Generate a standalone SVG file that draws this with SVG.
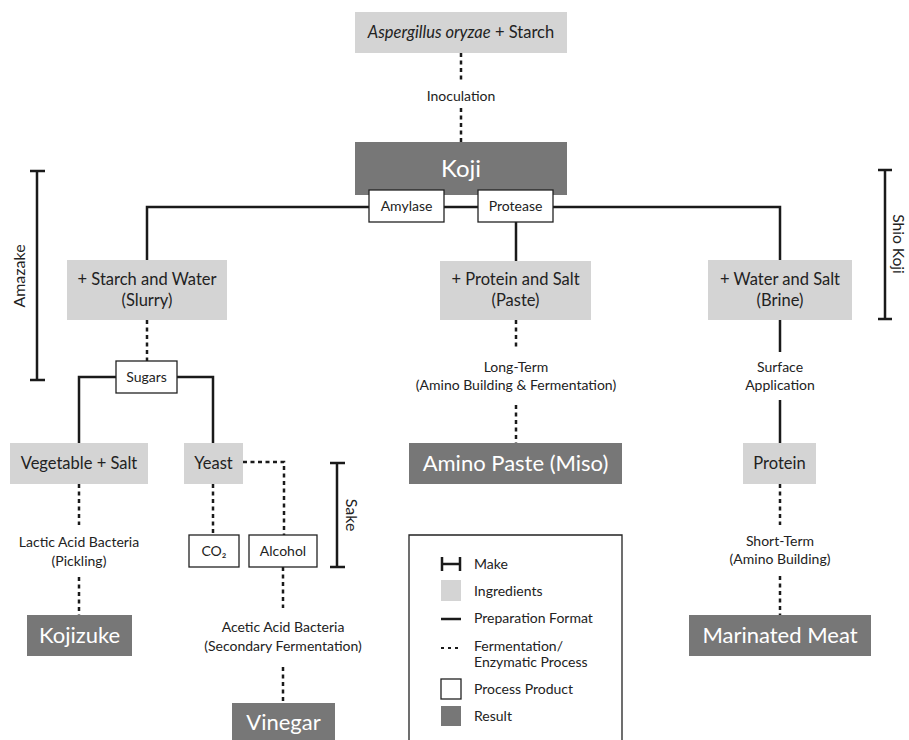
<svg xmlns="http://www.w3.org/2000/svg" width="909" height="740" viewBox="0 0 909 740">
<style>
text{font-family:Lato,"Open Sans","Liberation Sans",sans-serif;fill:#222;text-anchor:middle}
.ing{fill:#d4d4d4}
.res{fill:#777777}
.prod{fill:#fff;stroke:#222;stroke-width:1.3}
.box{font-size:16.5px}
.sm{font-size:14px}
.big{font-size:22px;fill:#fff}
.solid{fill:none;stroke:#1a1a1a;stroke-width:2.5}
.dot{fill:none;stroke:#1a1a1a;stroke-width:2.5;stroke-dasharray:4 3.5}
.lg{font-size:14px;text-anchor:start}
</style>
<rect width="909" height="740" fill="#fff"/>
<g id="connectors">
<path class="dot" d="M461 53V82M461 108V142"/>
<path class="solid" d="M147 260V207H369M444 207H478M553 207H780V260"/>
<path class="solid" d="M516 222V261"/>
<path class="dot" d="M147 320V361"/>
<path class="solid" d="M79 443V377H116M177 377H213V443"/>
<path class="dot" d="M79 484V525M79 577V615"/>
<path class="dot" d="M213 484V535"/>
<path class="dot" d="M243 462H284V535"/>
<path class="dot" d="M283 567V608M283 667V703"/>
<path class="dot" d="M516 320V350M516 405V443"/>
<path class="solid" d="M780 320V352M780 400V443"/>
<path class="dot" d="M780 484V525M780 576V615"/>
</g>
<g id="bracket-amazake">
<path class="solid" d="M37 171V380M30 171H45M30 380H45"/>
<text transform="translate(25 276) rotate(-90)" style="font-size:16px">Amazake</text>
</g>
<g id="bracket-shiokoji">
<path class="solid" d="M885 170V319M878 170H892M878 319H892"/>
<text transform="translate(893 244) rotate(90)" style="font-size:15.5px">Shio Koji</text>
</g>
<g id="bracket-sake">
<path class="solid" d="M337 463V567M330 463H345M330 567H345"/>
<text transform="translate(346 515) rotate(90)" style="font-size:16px">Sake</text>
</g>
<g id="start">
<rect class="ing" x="355" y="12" width="212" height="41"/>
<text class="box" x="461" y="38"><tspan font-style="italic">Aspergillus oryzae</tspan> + Starch</text>
</g>
<text id="lbl-inoculation" class="sm" x="461" y="101">Inoculation</text>
<g id="koji">
<rect class="res" x="355" y="142" width="212" height="53"/>
<text class="big" x="461" y="177" style="font-size:24px">Koji</text>
</g>
<g id="amylase">
<rect class="prod" x="369" y="190" width="75" height="32"/>
<text class="sm" x="406.5" y="211">Amylase</text>
</g>
<g id="protease">
<rect class="prod" x="478" y="190" width="75" height="32"/>
<text class="sm" x="515.5" y="211">Protease</text>
</g>
<g id="slurry">
<rect class="ing" x="67" y="260" width="160" height="60"/>
<text class="box" x="147" y="285">+ Starch and Water</text>
<text class="box" x="147" y="306">(Slurry)</text>
</g>
<g id="paste">
<rect class="ing" x="440" y="261" width="151" height="59"/>
<text class="box" x="515.5" y="285">+ Protein and Salt</text>
<text class="box" x="515.5" y="306">(Paste)</text>
</g>
<g id="brine">
<rect class="ing" x="708" y="260" width="144" height="60"/>
<text class="box" x="780" y="285">+ Water and Salt</text>
<text class="box" x="780" y="306">(Brine)</text>
</g>
<g id="sugars">
<rect class="prod" x="116" y="361" width="61" height="32"/>
<text class="sm" x="146.5" y="382">Sugars</text>
</g>
<g id="vegetable">
<rect class="ing" x="10" y="443" width="138" height="41"/>
<text class="box" x="79" y="469">Vegetable + Salt</text>
</g>
<g id="yeast">
<rect class="ing" x="184" y="443" width="59" height="41"/>
<text class="box" x="213.5" y="469">Yeast</text>
</g>
<g id="co2">
<rect class="prod" x="189" y="535" width="50" height="32"/>
<text class="sm" x="214" y="556">CO₂</text>
</g>
<g id="alcohol">
<rect class="prod" x="249" y="535" width="68" height="32"/>
<text class="sm" x="283" y="556">Alcohol</text>
</g>
<g id="lbl-lactic">
<text class="sm" x="79" y="547">Lactic Acid Bacteria</text>
<text class="sm" x="79" y="566">(Pickling)</text>
</g>
<g id="lbl-acetic">
<text class="sm" x="283" y="632">Acetic Acid Bacteria</text>
<text class="sm" x="283" y="651">(Secondary Fermentation)</text>
</g>
<g id="lbl-longterm">
<text class="sm" x="516" y="372">Long-Term</text>
<text class="sm" x="516" y="390">(Amino Building &amp; Fermentation)</text>
</g>
<g id="lbl-surface">
<text class="sm" x="780" y="372">Surface</text>
<text class="sm" x="780" y="390">Application</text>
</g>
<g id="lbl-shortterm">
<text class="sm" x="780" y="546">Short-Term</text>
<text class="sm" x="780" y="564">(Amino Building)</text>
</g>
<g id="protein">
<rect class="ing" x="743" y="443" width="73" height="41"/>
<text class="box" x="779.5" y="469">Protein</text>
</g>
<g id="kojizuke">
<rect class="res" x="27" y="615" width="105" height="41"/>
<text class="big" x="79.5" y="643">Kojizuke</text>
</g>
<g id="vinegar">
<rect class="res" x="232" y="703" width="103" height="40"/>
<text class="big" x="283.5" y="730">Vinegar</text>
</g>
<g id="miso">
<rect class="res" x="409" y="443" width="213" height="41"/>
<text class="big" x="515.5" y="471">Amino Paste (Miso)</text>
</g>
<g id="meat">
<rect class="res" x="689" y="615" width="182" height="41"/>
<text class="big" x="780" y="643">Marinated Meat</text>
</g>
<g id="legend">
<path d="M409 745V535H622V745" fill="none" stroke="#222" stroke-width="1.3"/>
<path class="solid" d="M442 557V571M460 557V571M442 564H460"/>
<text class="lg" x="474" y="569">Make</text>
<rect class="ing" x="441" y="580" width="20" height="21"/>
<text class="lg" x="474" y="596">Ingredients</text>
<path class="solid" d="M441 619H461"/>
<text class="lg" x="474" y="623">Preparation Format</text>
<path class="dot" d="M441 648H461" style="stroke-dasharray:3 4;stroke-width:2"/>
<text class="lg" x="474" y="651">Fermentation/</text>
<text class="lg" x="474" y="667">Enzymatic Process</text>
<rect class="prod" x="441" y="679" width="20" height="20"/>
<text class="lg" x="474" y="694">Process Product</text>
<rect class="res" x="441" y="706" width="20" height="20"/>
<text class="lg" x="474" y="721">Result</text>
</g>
</svg>
